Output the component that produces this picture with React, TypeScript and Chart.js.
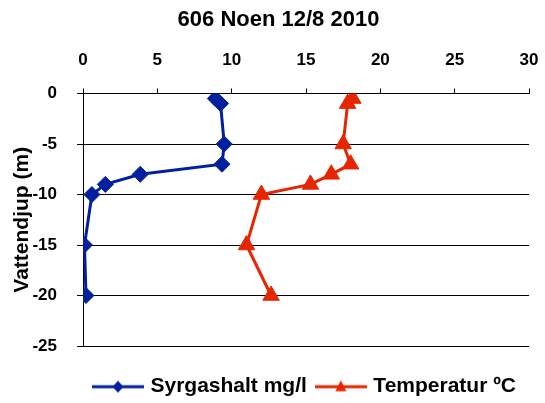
import React, { useEffect, useRef } from "react";
import { Chart, registerables } from "chart.js";

Chart.register(...registerables);

const chartTitle = "606 Noen 12/8 2010";
const yAxisTitle = "Vattendjup (m)";
const seriesLabels = ["Syrgashalt mg/l", "Temperatur ºC"];
const depths = [-0.5, -1, -5, -7, -8, -9, -10, -15, -20];
const oxygen = [8.9, 9.25, 9.5, 9.35, 3.85, 1.5, 0.6, 0.1, 0.2];
const temperature = [18.15, 17.8, 17.5, 18.0, 16.7, 15.3, 12.0, 11.0, 12.65];
const xTicks = [0, 5, 10, 15, 20, 25, 30];
const yTicks = [0, -5, -10, -15, -20, -25];

const BLUE = "#0020A0";
const RED = "#E62600";
const FONT = "'Liberation Sans', Arial, sans-serif";

function legendImage(color: string, kind: string): HTMLCanvasElement {
  const c = document.createElement("canvas");
  c.width = 52;
  c.height = 16;
  const ctx = c.getContext("2d")!;
  ctx.strokeStyle = color;
  ctx.lineWidth = 3;
  ctx.beginPath();
  ctx.moveTo(0, 8);
  ctx.lineTo(52, 8);
  ctx.stroke();
  ctx.fillStyle = color;
  ctx.beginPath();
  if (kind === "diamond") {
    ctx.moveTo(26, 2);
    ctx.lineTo(31.5, 8);
    ctx.lineTo(26, 14);
    ctx.lineTo(20.5, 8);
  } else {
    ctx.moveTo(26, 1.5);
    ctx.lineTo(31.5, 12.5);
    ctx.lineTo(20.5, 12.5);
  }
  ctx.closePath();
  ctx.fill();
  return c;
}

export default function App() {
  const ref = useRef<HTMLCanvasElement | null>(null);

  useEffect(() => {
    document.body.style.margin = "0";
    const canvas = ref.current!;
    const imgs = [legendImage(BLUE, "diamond"), legendImage(RED, "triangle")];
    const chart = new Chart(canvas, {
      type: "scatter",
      data: {
        datasets: [
          {
            label: seriesLabels[0],
            data: depths.map((d, i) => ({ x: oxygen[i], y: d })),
            showLine: true,
            borderColor: BLUE,
            backgroundColor: BLUE,
            borderWidth: 3,
            pointStyle: "rectRot",
            pointRadius: 8,
            pointBorderWidth: 1,
            pointBackgroundColor: BLUE,
            pointBorderColor: BLUE,
          },
          {
            label: seriesLabels[1],
            data: depths.map((d, i) => ({ x: temperature[i], y: d })),
            showLine: true,
            borderColor: RED,
            backgroundColor: RED,
            borderWidth: 3,
            pointStyle: "triangle",
            pointRadius: 9.5,
            pointBorderWidth: 1,
            pointBackgroundColor: RED,
            pointBorderColor: RED,
          },
        ],
      },
      options: {
        responsive: false,
        animation: false,
        devicePixelRatio: 1,
        layout: { padding: { left: 28, right: 16, top: 0, bottom: -4.2 } },
        scales: {
          x: {
            type: "linear",
            position: "top",
            min: 0,
            max: 30,
            afterBuildTicks: (s: any) => {
              s.ticks = xTicks.map((v) => ({ value: v }));
            },
            afterFit: (s: any) => {
              s.height = 60.1;
              s.paddingLeft = 0;
              s.paddingRight = 0;
            },
            ticks: {
              color: "#000",
              padding: 18,
              font: { family: FONT, size: 17, weight: "bold" },
            },
            grid: {
              drawOnChartArea: false,
              color: "#000",
              tickLength: 5,
              lineWidth: 1,
            },
            border: { display: true, color: "#000", width: 1 },
          },
          y: {
            type: "linear",
            position: "left",
            min: -25,
            max: 0,
            afterBuildTicks: (s: any) => {
              s.ticks = yTicks.map((v) => ({ value: v }));
            },
            afterFit: (s: any) => {
              s.width = 55;
            },
            ticks: {
              color: "#000",
              padding: 20,
              font: { family: FONT, size: 17, weight: "bold" },
            },
            grid: {
              color: "#000",
              tickLength: 6,
              lineWidth: 1,
            },
            border: { display: true, color: "#000", width: 1 },
            title: {
              display: true,
              text: yAxisTitle,
              color: "#000",
              padding: { top: -18.6, bottom: 0 },
              font: { family: FONT, size: 21, weight: "bold" },
            },
          },
        },
        plugins: {
          tooltip: { enabled: false },
          title: {
            display: true,
            text: chartTitle,
            color: "#000",
            padding: { top: 7, bottom: 0 },
            font: { family: FONT, size: 22, weight: "bold", lineHeight: 1.2 },
          },
          legend: {
            display: true,
            position: "bottom",
            fullSize: false,
            title: {
              display: true,
              text: "",
              padding: { top: 8.2, bottom: 0 },
              font: { size: 10, lineHeight: 1 },
            },
            labels: {
              usePointStyle: true,
              pointStyleWidth: 44,
              padding: 12,
              color: "#000",
              font: { family: FONT, size: 21, weight: "bold" },
              generateLabels: (c: any) =>
                c.data.datasets.map((ds: any, i: number) => ({
                  text: ds.label,
                  pointStyle: imgs[i],
                  fillStyle: ds.borderColor,
                  strokeStyle: ds.borderColor,
                  lineWidth: 0,
                  hidden: false,
                  datasetIndex: i,
                  fontColor: "#000",
                })),
            },
          },
        },
      } as any,
    });
    return () => chart.destroy();
  }, []);

  return <canvas ref={ref} width={545} height={403} style={{ display: "block" }} />;
}
